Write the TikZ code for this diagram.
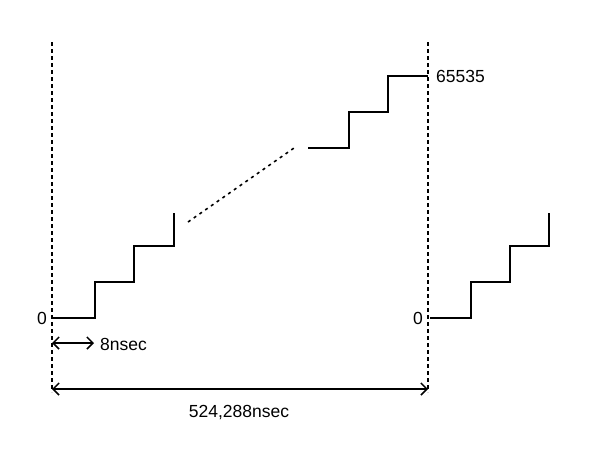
\documentclass[tikz,border=0pt]{standalone}
\usepackage{fontspec}
\setmainfont{Liberation Sans}
\usetikzlibrary{arrows.meta}
\begin{document}
\begin{tikzpicture}[x=1pt,y=-1pt,
  stair/.style={line width=1.8pt,line join=miter},
  guide/.style={line width=1.8pt,dash pattern=on 4pt off 3pt},
  dotline/.style={line width=1.6pt,dash pattern=on 3pt off 4pt},
  dim/.style={line width=1.5pt,{Straight Barb[length=6pt,width=12pt]}-{Straight Barb[length=6pt,width=12pt]}},
  lbl/.style={font=\fontsize{17.5}{20}\selectfont,inner sep=0pt}]
\useasboundingbox (0,0) rectangle (595,451);
% guide lines
\coordinate (Lt) at (52,42); \coordinate (Lb) at (52,392);
\coordinate (Rt) at (428,42); \coordinate (Rb) at (428,392);
\draw[guide] (Lt) -- (Lb);
\draw[guide] (Rt) -- (Rb);
% left staircase
\coordinate (a0) at (53,318);
\coordinate (a1) at (95,318);
\coordinate (a2) at (95,282);
\coordinate (a3) at (134,282);
\coordinate (a4) at (134,246);
\coordinate (a5) at (174,246);
\coordinate (a6) at (174,213);
\draw[stair] (a0) -- (a1) -- (a2) -- (a3) -- (a4) -- (a5) -- (a6);
% dotted continuation
\coordinate (d0) at (188,222);
\coordinate (d1) at (294,148);
\draw[dotline] (d0) -- (d1);
% upper staircase
\coordinate (b0) at (308,148);
\coordinate (b1) at (349,148);
\coordinate (b2) at (349,112);
\coordinate (b3) at (388,112);
\coordinate (b4) at (388,76);
\coordinate (b5) at (428,76);
\draw[stair] (b0) -- (b1) -- (b2) -- (b3) -- (b4) -- (b5);
% right staircase
\coordinate (c0) at (430,318);
\coordinate (c1) at (471,318);
\coordinate (c2) at (471,282);
\coordinate (c3) at (510,282);
\coordinate (c4) at (510,246);
\coordinate (c5) at (549,246);
\coordinate (c6) at (549,213);
\draw[stair] (c0) -- (c1) -- (c2) -- (c3) -- (c4) -- (c5) -- (c6);
% labels
\node[lbl,anchor=east] (z1) at (47,318) {0};
\node[lbl,anchor=east] (z2) at (423,318) {0};
\node[lbl,anchor=west] (top) at (436,76) {65535};
% dimension arrows
\coordinate (s0) at (52,343); \coordinate (s1) at (94,343);
\draw[dim] (s0) -- (s1);
\node[lbl,anchor=west] (ns8) at (100,344) {8nsec};
\coordinate (p0) at (52,389); \coordinate (p1) at (428,389);
\draw[dim] (p0) -- (p1);
\node[lbl] (period) at (239,413) {524,288nsec};
\end{tikzpicture}
\end{document}
